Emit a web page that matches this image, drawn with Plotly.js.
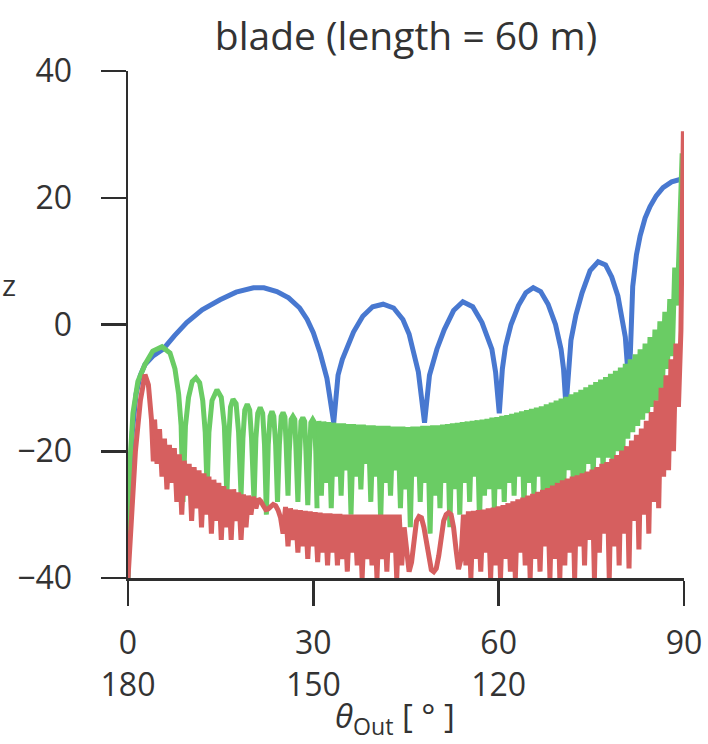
<!DOCTYPE html>
<html><head><meta charset="utf-8">
<script src="https://cdn.plot.ly/plotly-3.0.1.min.js"></script>
<style>html,body{margin:0;padding:0;background:#fff}</style>
</head><body><div id="chart" style="width:708px;height:744px"></div>
<script>
// ---- data ----
const xTickVals = [0, 30, 60, 90];
const xTickText = ["0<br>180", "30<br>150", "60<br>120", "90"];
const yTickVals = [-40, -20, 0, 20, 40];
const yTickText = ["\u221240", "\u221220", "0", "20", "40"];

const blueX = [0,0.3,0.7,1.3,2,2.75,4,5.7,7.5,9.5,12,14.9,17.5,20.3,22,24.1,26,27.8,29,30,31.1,32.2,33.3,
  34,34.7,35.4,36.5,38,39.6,41.3,43,44.5,45.5,46.1,47,48,
  48.8,50,51.2,52.7,54.2,55.8,57.3,58.9,59.5,60.1,
  60.6,61.1,62,63.2,64.4,65.6,66.8,68,69.2,70.1,70.5,70.9,
  71.3,71.7,72.5,73.5,74.8,76.1,77.3,78.3,79.3,80.1,80.5,80.8,81.05,
  81.3,81.7,82.3,82.9,83.7,84.5,85.5,86.6,88,89.3,89.8];
const blueY = [-40,-25,-17,-11,-8,-6.3,-5,-3.9,-1.8,0.3,2.3,3.9,5.1,5.8,5.8,5.2,4.2,2.6,0.8,-1.3,-4.5,-8.5,-15.5,
  -8,-5.5,-3.9,-1.2,1.3,2.8,3.2,2.6,0.8,-1.5,-3.9,-7.5,-15.5,
  -8,-3.9,-0.8,2.2,3.6,2.8,0.3,-3.9,-7.5,-14,
  -7,-3.5,0,3,5,5.8,5.2,3.2,0,-3.9,-7,-13,
  -6,-2.5,1.5,5,8.5,9.9,9.4,7.5,4.5,0.5,-2,-6,-16,
  -5,6,11,14,16.8,18.6,20.3,21.6,22.5,22.9,23];

const greenLobeX = [0,0.3,0.8,1.6,2.75,4,5.5,6.8,7.6,8.2,8.6,8.9,
  9.3,9.8,10.4,11,11.6,12.1,12.5,12.8,
  13.1,13.6,14.4,15.1,15.6,16.0,
  16.3,16.6,17.0,17.5,17.9,18.3,
  18.6,18.9,19.3,19.7,20.0,20.4,
  20.7,21.0,21.4,21.8,22.1,22.4,
  22.7,23.0,23.3,23.6,23.9,24.2,
  24.5,24.8,25.1,25.4,25.6,25.9,
  26.1,26.4,26.7,27.0,27.2,27.5,
  27.8,28.0,28.3,28.6,28.8,29.1,
  29.4,29.6,29.9,30.2,30.4,30.6];
const greenLobeY = [-40,-22,-14,-9,-6.3,-4.2,-3.5,-4.5,-7,-11,-16,-28,
  -16,-11.5,-9,-8.4,-9.2,-12,-17,-26,
  -17,-12,-10.3,-11.5,-16,-27,
  -18,-13,-11.8,-12.5,-17,-27,
  -18,-13.5,-12.6,-13.5,-18,-28,
  -18,-14,-13.1,-14,-19,-30,
  -19,-14.5,-13.7,-14.5,-19,-28,
  -19,-14.5,-13.9,-14.6,-19,-27,
  -20,-15,-14.5,-15,-20,-28,
  -20,-15.3,-14.7,-15.3,-20,-28.5,
  -20,-15.5,-15,-15.5,-20,-29];

const greenBandStart = 30.9, greenBandStep = 0.4;
const greenBandY = [
  -15.2,-27,-15.3,-25,-15.4,-29,-15.5,-24,-15.6,-27,-15.6,-23,-15.7,-30,-15.7,-24,
  -15.8,-26,-15.8,-22,-15.9,-28,-15.9,-24,-16.0,-31,-16.0,-25,-16.0,-27,-16.1,-23,
  -16.1,-29,-16.1,-26,-16.2,-32,-16.1,-24,-16.1,-28,-16.0,-25,-16.0,-33,-15.9,-27,
  -15.9,-29,-15.8,-25,-15.7,-32,-15.6,-26,-15.5,-30,-15.4,-25,-15.3,-28,-15.2,-24,
  -15.1,-31,-15.0,-27,-14.9,-26,-14.7,-29,-14.6,-26,-14.4,-28,-14.3,-25,-14.1,-27,
  -13.9,-24,-13.7,-29,-13.5,-25,-13.3,-27,-13.1,-24,-12.9,-31,-12.6,-26,-12.3,-28,
  -12.0,-25,-11.7,-27,-11.4,-23,-11.0,-26,-10.7,-24,-10.3,-25,-9.9,-22,-9.5,-24,
  -9.1,-21,-8.7,-23,-8.3,-21,-7.8,-22,-7.3,-20,-6.8,-20,-6.2,-18,-5.5,-17,
  -4.7,-16,-3.9,-15,-3.0,-14,-2.0,-13,-0.8,-12,0.5,-10,2.0,-7,4.0,-5,
  9,3,15,27];

const redLobeX = [0,0.5,1.2,2,2.75,3.3,3.8,4.1,4.3];
const redLobeY = [-40,-30,-20,-12,-7.9,-9.5,-15,-21.6,-15];

const redBandStart = 4.3, redBandStep = 0.4;
const redBandY = [
  -15,-22,-16.5,-24,-18,-26,-19,-25,-19.5,-28,-20.5,-30,-21.5,-27,-22,-31,
  -22.5,-29,-23,-32,-23.5,-30,-24,-33,-24.5,-31,-25,-34,-25.5,-32,-26,-34,
  -26,-31,-26.5,-34,-26.8,-32,-27,-30,-27.2,-29,-27.5,-27.9,-28.6,-29.2,-29.1,-28.7,
  -28.4,-28.6,-29.3,-30.5,
  -33,-28.8,-35,-29,-34,-29.2,-36,-29.3,-35,-29.4,-37,-29.5,-35,-29.6,-37.5,-29.7,
  -36,-29.8,-38,-29.8,-36,-29.9,-38,-29.9,-37,-30,-39,-30,-36,-30,-38,-30,
  -40,-30,-37,-30,-38,-30,-40,-30,-37,-30,-39,-30,-36,-30,-40,-30,-38,
  -32,-36,-39,-37.5,-34,-31,-30.3,-30.5,-32,-34.5,-37,-38.7,-39,-38.5,-36.5,-33.5,
  -31,-30,-29.7,-30,-32,-35.5,-38.6,-37,-30,
  -38,-29.5,-40,-29.4,-37,-29.3,-39,-29.2,-36,-29,-40,-28.9,-38,-28.7,-40,-28.5,
  -37,-28.2,-39,-27.9,-40,-27.6,-36,-27.3,-38,-27,-40,-26.7,-37,-26.4,-39,-26.1,
  -35,-25.8,-40,-25.4,-37,-25,-40,-24.6,-38,-24.3,-36,-24,-40,-23.8,-35,-23.5,
  -38,-23.2,-34,-22.9,-40,-22.5,-36,-22,-33,-21.7,-40,-21.2,-35,-20.6,-38,-19.9,
  -33,-19.2,-38.5,-18.3,-31,-17.4,-35.5,-16.4,-30,-15.2,-33,-13.8,-28,-12,-29,-10,
  -24,-8,-23,-5.5,-20,-3,-13,-1,30.5];

// ---- styling ----
const cBlue = "#4878D0", cGreen = "#6ACC64", cRed = "#D65F5F";
const lw = 5;
const axisColor = "#2e2e2e";
const fontFam = "Open Sans, Noto Sans, sans-serif";

const traces = [
  {x: blueX, y: blueY, type: "scatter", mode: "lines", line: {color: cBlue, width: lw}, hoverinfo: "skip"},
  {x: greenLobeX, y: greenLobeY, type: "scatter", mode: "lines", line: {color: cGreen, width: lw}, hoverinfo: "skip"},
  {x0: greenBandStart, dx: greenBandStep, y: greenBandY, type: "scatter", mode: "lines", line: {color: cGreen, width: lw}, hoverinfo: "skip"},
  {x: redLobeX, y: redLobeY, type: "scatter", mode: "lines", line: {color: cRed, width: lw}, hoverinfo: "skip"},
  {x0: redBandStart, dx: redBandStep, y: redBandY, type: "scatter", mode: "lines", line: {color: cRed, width: lw}, hoverinfo: "skip"}
];

const layout = {
  width: 708, height: 744,
  margin: {l: 128, r: 24, t: 71, b: 166},
  paper_bgcolor: "#fff", plot_bgcolor: "#fff",
  showlegend: false,
  font: {family: fontFam, color: "#333", size: 32},
  title: {text: "blade (length = 60 m)", x: 0.5, xref: "paper", xanchor: "center",
          y: 0.951, yref: "container", yanchor: "middle", font: {size: 39, family: fontFam, color: "#333"}},
  xaxis: {range: [0, 90], tickvals: xTickVals, ticktext: xTickText, ticks: "outside", ticklen: 25,
          tickwidth: 2.5, tickcolor: axisColor, showline: true, linewidth: 2.5, linecolor: axisColor,
          showgrid: false, zeroline: false, tickfont: {size: 32, family: fontFam, color: "#333"},
          ticklabelstandoff: 10, fixedrange: true},
  yaxis: {range: [-40, 40], tickvals: yTickVals, ticktext: yTickText, ticks: "outside", ticklen: 25,
          tickwidth: 2.5, tickcolor: axisColor, showline: true, linewidth: 2.5, linecolor: axisColor,
          showgrid: false, zeroline: false, tickfont: {size: 32, family: fontFam, color: "#333"},
          ticklabelstandoff: 22, fixedrange: true},
  annotations: [
    {text: "<i>θ</i><sub>Out</sub> [ ° ]", xref: "paper", yref: "paper", x: 0.48, y: -0.276,
     xanchor: "center", yanchor: "middle", showarrow: false, font: {size: 33, family: fontFam, color: "#333"}},
    {text: "z", xref: "paper", yref: "paper", x: -0.214, y: 0.578, xanchor: "center", yanchor: "middle",
     showarrow: false, font: {size: 30, family: fontFam, color: "#333"}}
  ]
};

Plotly.newPlot("chart", traces, layout, {staticPlot: true, displayModeBar: false});
</script></body></html>
